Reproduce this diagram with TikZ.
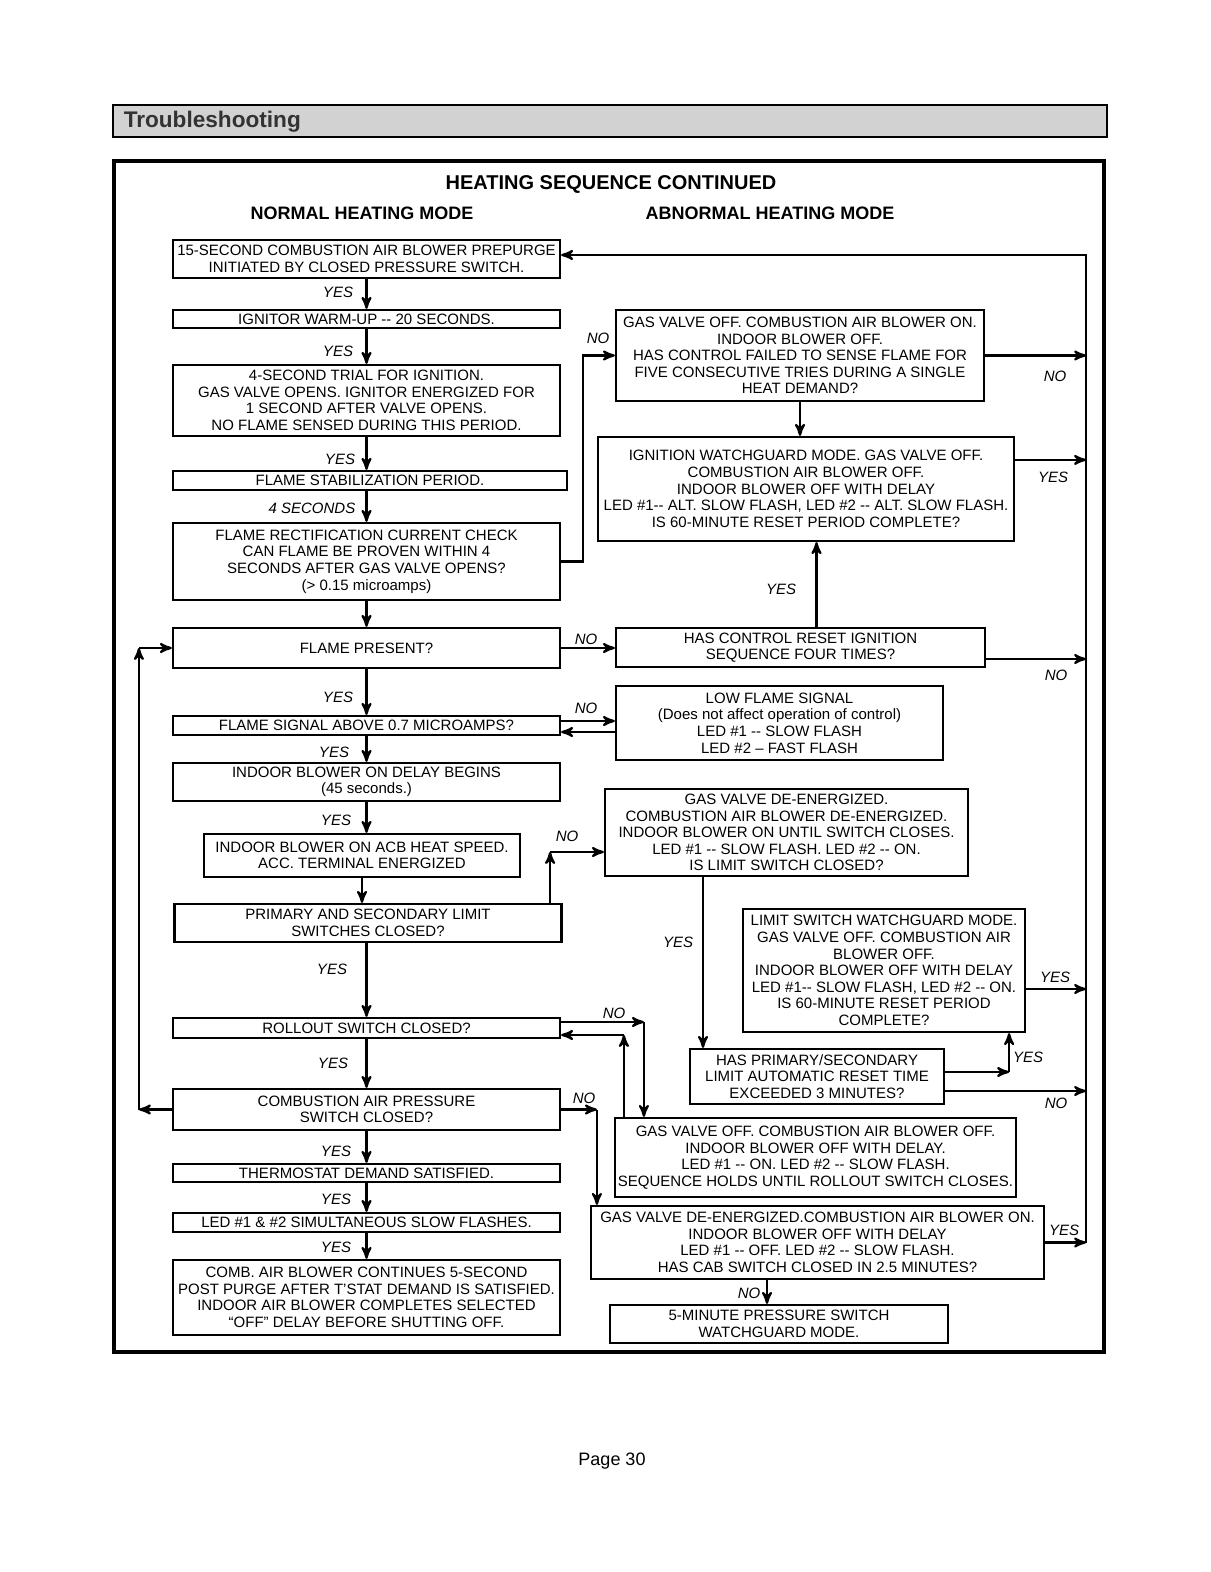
\documentclass[tikz,border=0pt]{standalone}
\usepackage{fontspec}
\setmainfont{Liberation Sans}
\usetikzlibrary{arrows}

\begin{document}
\begin{tikzpicture}[x=0.5pt,y=-0.5pt,>=stealth',line width=1.1pt]
    \tikzstyle{box}=[draw=black, rectangle, inner sep=0pt, align=center, font=\fontsize{7.5}{8.3}\selectfont, text=black]
    \tikzstyle{lbox}=[box, minimum width=193.5pt]
    \tikzstyle{lbl}=[font=\fontsize{7.5}{8.3}\selectfont\itshape]
    \tikzstyle{head}=[font=\fontsize{9}{11}\selectfont\bfseries]

    \useasboundingbox (0,0) rectangle (1210,1572);

    % header bar and frame
    \draw[line width=0.6pt, fill=gray!35] (113,105) rectangle (1107,137);
    \node[anchor=west, font=\fontsize{11.3}{13}\selectfont\bfseries, text=black!80] (hdr) at (116,122) {Troubleshooting};
    \draw[line width=1.6pt] (114,161) rectangle (1104,1352);
    \node[font=\fontsize{10}{12}\selectfont\bfseries] (title) at (611,184) {HEATING SEQUENCE CONTINUED};
    \node[head] (normal) at (362,213) {NORMAL HEATING MODE};
    \node[head] (abnormal) at (770,213) {ABNORMAL HEATING MODE};

    % normal heating mode
    \node[lbox, minimum height=19pt] (pre) at (366.5,259) {15-SECOND COMBUSTION AIR BLOWER PREPURGE\\INITIATED BY CLOSED PRESSURE SWITCH.};
    \node[lbox, minimum height=9pt] (warm) at (366.5,319) {IGNITOR WARM-UP -{}- 20 SECONDS.};
    \node[lbox, minimum height=35.5pt] (trial) at (366.5,400.5) {4-SECOND TRIAL FOR IGNITION.\\GAS VALVE OPENS. IGNITOR ENERGIZED FOR\\1 SECOND AFTER VALVE OPENS.\\NO FLAME SENSED DURING THIS PERIOD.};
    \node[box, minimum width=197pt, minimum height=9.5pt] (stab) at (370,480.5) {FLAME STABILIZATION PERIOD.};
    \node[lbox, minimum height=38.5pt] (rect) at (366.5,561.5) {FLAME RECTIFICATION CURRENT CHECK\\CAN FLAME BE PROVEN WITHIN 4\\SECONDS AFTER GAS VALVE OPENS?\\(> 0.15 microamps)};
    \node[lbox, minimum height=20pt] (flame) at (366.5,648) {FLAME PRESENT?};
    \node[lbox, minimum height=9.5pt] (signal) at (366.5,725.5) {FLAME SIGNAL ABOVE 0.7 MICROAMPS?};
    \node[lbox, minimum height=19pt] (ondelay) at (366.5,782) {INDOOR BLOWER ON DELAY BEGINS\\(45 seconds.)};
    \node[box, minimum width=158pt, minimum height=21.5pt] (heatspd) at (362,855.5) {INDOOR BLOWER ON ACB HEAT SPEED.\\ACC. TERMINAL ENERGIZED};
    \node[lbox, minimum height=19pt] (limits) at (368,923) {PRIMARY AND SECONDARY LIMIT\\SWITCHES CLOSED?};
    \node[lbox, minimum height=10pt] (rollout) at (366.5,1028) {ROLLOUT SWITCH CLOSED?};
    \node[lbox, minimum height=20.5pt] (cap) at (366.5,1109.5) {COMBUSTION AIR PRESSURE\\SWITCH CLOSED?};
    \node[lbox, minimum height=9pt] (tstat) at (366.5,1173) {THERMOSTAT DEMAND SATISFIED.};
    \node[lbox, minimum height=9.5pt] (leds) at (366.5,1222.5) {LED \#1 \& \#2 SIMULTANEOUS SLOW FLASHES.};
    \node[lbox, minimum height=37.5pt] (post) at (366.5,1297.5) {COMB. AIR BLOWER CONTINUES 5-SECOND\\POST PURGE AFTER T'STAT DEMAND IS SATISFIED.\\INDOOR AIR BLOWER COMPLETES SELECTED\\“OFF” DELAY BEFORE SHUTTING OFF.};

    % abnormal heating mode
    \node[box, minimum width=184pt, minimum height=45.5pt] (fail5) at (800,355.5) {GAS VALVE OFF. COMBUSTION AIR BLOWER ON.\\INDOOR BLOWER OFF.\\HAS CONTROL FAILED TO SENSE FLAME FOR\\FIVE CONSECUTIVE TRIES DURING A SINGLE\\HEAT DEMAND?};
    \node[box, minimum width=208pt, minimum height=52pt] (ignwg) at (806,489) {IGNITION WATCHGUARD MODE. GAS VALVE OFF.\\COMBUSTION AIR BLOWER OFF.\\INDOOR BLOWER OFF WITH DELAY\\LED \#1-{}- ALT. SLOW FLASH, LED \#2 -{}- ALT. SLOW FLASH.\\IS 60-MINUTE RESET PERIOD COMPLETE?};
    \node[box, minimum width=184.5pt, minimum height=19.5pt] (reset4) at (800.5,647.5) {HAS CONTROL RESET IGNITION\\SEQUENCE FOUR TIMES?};
    \node[box, minimum width=163.5pt, minimum height=37pt] (lowfl) at (779.5,723) {LOW FLAME SIGNAL\\(Does not affect operation of control)\\LED \#1 -{}- SLOW FLASH\\LED \#2 -- FAST FLASH};
    \node[box, minimum width=181.5pt, minimum height=43.5pt] (limopen) at (786.5,832.5) {GAS VALVE DE-ENERGIZED.\\COMBUSTION AIR BLOWER DE-ENERGIZED.\\INDOOR BLOWER ON UNTIL SWITCH CLOSES.\\LED \#1 -{}- SLOW FLASH. LED \#2 -{}- ON.\\IS LIMIT SWITCH CLOSED?};
    \node[box, minimum width=141pt, minimum height=61.5pt] (limwg) at (884,970.5) {LIMIT SWITCH WATCHGUARD MODE.\\GAS VALVE OFF. COMBUSTION AIR\\BLOWER OFF.\\INDOOR BLOWER OFF WITH DELAY\\LED \#1-{}- SLOW FLASH, LED \#2 -{}- ON.\\IS 60-MINUTE RESET PERIOD\\COMPLETE?};
    \node[box, minimum width=127pt, minimum height=27.5pt] (auto3) at (817,1076.5) {HAS PRIMARY/SECONDARY\\LIMIT AUTOMATIC RESET TIME\\EXCEEDED 3 MINUTES?};
    \node[box, minimum width=200.5pt, minimum height=39.5pt] (rollopen) at (815.5,1157.5) {GAS VALVE OFF. COMBUSTION AIR BLOWER OFF.\\INDOOR BLOWER OFF WITH DELAY.\\LED \#1 -{}- ON. LED \#2 -{}- SLOW FLASH.\\SEQUENCE HOLDS UNTIL ROLLOUT SWITCH CLOSES.};
    \node[box, minimum width=226.5pt, minimum height=36.5pt] (cabsw) at (817.5,1242.5) {GAS VALVE DE-ENERGIZED.COMBUSTION AIR BLOWER ON.\\INDOOR BLOWER OFF WITH DELAY\\LED \#1 -{}- OFF. LED \#2 -{}- SLOW FLASH.\\HAS CAB SWITCH CLOSED IN 2.5 MINUTES?};
    \node[box, minimum width=169pt, minimum height=19pt] (pswg) at (779,1324) {5-MINUTE PRESSURE SWITCH\\WATCHGUARD MODE.};

    % labels
    \node[lbl] at (338,292) {YES};
    \node[lbl] at (338,351) {YES};
    \node[lbl] at (340,459) {YES};
    \node[lbl] at (312,508) {4 SECONDS};
    \node[lbl] at (338,697) {YES};
    \node[lbl] at (334,752) {YES};
    \node[lbl] at (336,820) {YES};
    \node[lbl] at (332,969) {YES};
    \node[lbl] at (333,1063) {YES};
    \node[lbl] at (336,1151) {YES};
    \node[lbl] at (336,1199) {YES};
    \node[lbl] at (336,1247) {YES};
    \node[lbl] at (598,338) {NO};
    \node[lbl] at (1055,376) {NO};
    \node[lbl] at (1053,477) {YES};
    \node[lbl] at (586,639) {NO};
    \node[lbl] at (781,589) {YES};
    \node[lbl] at (1056,675) {NO};
    \node[lbl] at (586,708) {NO};
    \node[lbl] at (567,836) {NO};
    \node[lbl] at (678,942) {YES};
    \node[lbl] at (1055,977) {YES};
    \node[lbl] at (1028,1057) {YES};
    \node[lbl] at (1056,1103) {NO};
    \node[lbl] at (614,1013) {NO};
    \node[lbl] at (584,1098) {NO};
    \node[lbl] at (1064,1230) {YES};
    \node[lbl] at (749,1293) {NO};

    % helper points
    \coordinate (rt) at (1086,255);
    \coordinate (rb) at (cabsw.east -| rt);
    \coordinate (wgout) at ([yshift=-12pt]ignwg.north east);
    \coordinate (r4out) at ([yshift=-5.75pt]reset4.east);
    \coordinate (r4up) at ([xshift=8pt]reset4.north);
    \coordinate (sgout) at ([yshift=2.25pt]signal.east);
    \coordinate (sgin) at ([yshift=-3.25pt]signal.east);
    \coordinate (lmup) at ([xshift=-6.25pt]limits.north east);
    \coordinate (lmin) at ([yshift=-9.75pt]limopen.west);
    \coordinate (lodn) at ([xshift=-41.75pt]limopen.south);
    \coordinate (lwout) at ([yshift=-9.25pt]limwg.east);
    \coordinate (a3r) at ([yshift=2.25pt]auto3.east);
    \coordinate (a3k) at ([xshift=-8.5pt]limwg.south east);
    \coordinate (a3o) at ([yshift=-7.25pt]auto3.east);
    \coordinate (roout) at ([yshift=3pt]rollout.east);
    \coordinate (roin) at ([yshift=-3.5pt]rollout.east);
    \coordinate (rodn) at ([xshift=15pt]rollopen.north west);
    \coordinate (roup) at ([xshift=5pt]rollopen.north west);
    \coordinate (cpdn) at ([xshift=3.5pt]cabsw.north west);
    \coordinate (lpb) at ([xshift=-16.5pt]cap.west);
    \coordinate (cbdn) at ([xshift=-6pt]pswg.north);

    % normal sequence
    \path[->]
     (pre) edge (warm)
     (warm) edge (trial)
     (trial) edge (trial.south |- stab.north)
     (trial.south |- stab.south) edge (rect)
     (rect) edge (flame)
     (flame) edge (signal)
     (signal) edge (ondelay)
     (ondelay.south) edge (ondelay.south |- heatspd.north)
     (heatspd.south) edge (heatspd.south |- limits.north)
     (limits.south -| rollout) edge (rollout)
     (rollout) edge (cap)
     (cap) edge (tstat)
     (tstat) edge (leds)
     (leds) edge (post)
     ;

    % abnormal branches
    \draw[->] (rect.east) -- ++(22,0) |- (fail5.west);
    \draw[->] (rb) -- (rt) -- (pre.east |- rt);
    \path[->]
     (fail5.east) edge (fail5.east -| rt)
     (fail5.south) edge (fail5.south |- ignwg.north)
     (wgout) edge (wgout -| rt)
     (flame.east) edge (flame.east -| reset4.west)
     (r4up) edge (r4up |- ignwg.south)
     (r4out) edge (r4out -| rt)
     (sgout) edge (sgout -| lowfl.west)
     (sgin -| lowfl.west) edge (sgin)
     (lodn) edge (lodn |- auto3.north)
     (lwout) edge (lwout -| rt)
     (a3o) edge (a3o -| rt)
     (cabsw.east) edge (rb)
     (cbdn |- cabsw.south) edge (cbdn)
     ;
    \draw[->] (lmup) -- (lmup |- lmin);
    \draw[->] (lmup |- lmin) -- (lmin);
    \draw[->] (a3r) -- (a3k |- a3r);
    \draw[->] (a3k |- a3r) -- (a3k);
    \draw[->] (roout) -- (rodn |- roout);
    \draw[->] (rodn |- roout) -- (rodn);
    \draw[->] (roup) -- (roup |- roin);
    \draw[->] (roup |- roin) -- (roin);
    \draw[->] (cap.east) -- (cpdn |- cap.east);
    \draw[->] (cpdn |- cap.east) -- (cpdn);
    \draw[->] (cap.west) -- (lpb);
    \draw[->] (lpb) -- (lpb |- flame.west);
    \draw[->] (lpb |- flame.west) -- (flame.west);

    \node[font=\fontsize{9}{11}\selectfont] (page) at (612,1461) {Page 30};
  \end{tikzpicture}
\end{document}
